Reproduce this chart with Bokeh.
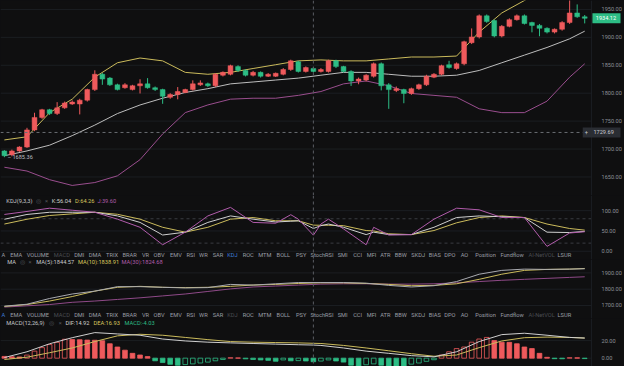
from bokeh.plotting import figure
from bokeh.layouts import column
from bokeh.models import Range1d, FixedTicker, PrintfTickFormatter, Span, Label, ColumnDataSource
from bokeh.embed import file_html
from bokeh.resources import INLINE
from bokeh.core.properties import value

# ---------------- data ----------------
candle_idx = list(range(1, 79))
opens = [1696.6, 1689.7, 1696.6, 1703.5, 1734.3, 1756.6, 1770.4, 1763.5, 1773.8, 1780.7,
         1780.7, 1787.5, 1806.4, 1833.9, 1827.0, 1815.0, 1809.8, 1806.4, 1813.3, 1816.7,
         1809.8, 1806.4, 1792.7, 1797.8, 1801.3, 1806.4, 1815.0, 1816.7, 1813.3, 1832.2,
         1833.9, 1847.6, 1840.7, 1832.2, 1837.3, 1830.4, 1830.4, 1833.9, 1842.4, 1856.2,
         1839.0, 1844.2, 1839.0, 1839.0, 1857.9, 1847.6, 1839.0, 1821.9, 1823.6, 1830.4,
         1852.7, 1815.0, 1804.7, 1806.4, 1799.5, 1808.1, 1815.0, 1828.7, 1833.9, 1851.0,
         1844.2, 1852.7, 1890.5, 1900.8, 1938.5, 1930.0, 1902.5, 1919.7, 1931.7, 1938.5,
         1926.5, 1921.4, 1916.2, 1909.4, 1914.5, 1926.5, 1943.7, 1936.8]
highs = [1698, 1699, 1705, 1738, 1765, 1772, 1772, 1784, 1785, 1787,
         1790, 1808, 1841, 1836, 1829, 1817, 1818, 1815, 1825, 1827,
         1812, 1808, 1800, 1811, 1808, 1823, 1823, 1819, 1836, 1839,
         1851, 1850, 1843, 1840, 1839, 1836, 1837, 1845, 1860, 1858,
         1848, 1847, 1845, 1860, 1860, 1849, 1841, 1828, 1834, 1855,
         1855, 1818, 1812, 1808, 1810, 1817, 1833, 1836, 1851, 1858,
         1855, 1894, 1916, 1941, 1941, 1932, 1922, 1934, 1941, 1941,
         1928, 1924, 1918, 1916, 1929, 1972, 1959, 1940]
lows = [1685.36, 1687, 1695, 1702, 1732, 1754, 1761, 1761, 1772, 1779,
        1762, 1785, 1804, 1815, 1813, 1805, 1808, 1805, 1799.5, 1808,
        1804, 1781, 1790, 1789, 1800, 1805, 1813, 1811, 1811, 1830,
        1832, 1838, 1830, 1830, 1828, 1829, 1829, 1832, 1840, 1837,
        1837, 1837, 1837, 1837, 1845, 1837, 1813, 1816, 1821, 1828,
        1805, 1772, 1802, 1782, 1797, 1806, 1813, 1827, 1832, 1844,
        1842, 1850, 1888, 1898, 1926, 1900, 1900, 1918, 1930, 1923,
        1909, 1902, 1907, 1907, 1912, 1924, 1935, 1925]
closes = [1688.0, 1696.6, 1703.5, 1734.3, 1756.6, 1770.4, 1763.5, 1773.8, 1782.4, 1784.1,
          1787.5, 1806.4, 1833.9, 1825.3, 1815.0, 1806.4, 1815.0, 1813.3, 1816.7, 1809.8,
          1806.4, 1794.4, 1797.8, 1803.0, 1806.4, 1816.7, 1818.4, 1813.3, 1833.9, 1837.3,
          1849.3, 1840.7, 1832.2, 1837.3, 1830.4, 1833.9, 1835.6, 1842.4, 1857.9, 1839.0,
          1845.9, 1839.0, 1842.4, 1857.9, 1847.6, 1839.0, 1821.9, 1825.3, 1832.2, 1852.7,
          1813.3, 1806.4, 1808.1, 1799.5, 1808.1, 1815.0, 1830.4, 1833.9, 1849.3, 1845.9,
          1852.7, 1892.2, 1900.8, 1938.5, 1928.2, 1902.5, 1919.7, 1931.7, 1938.5, 1924.8,
          1921.4, 1916.2, 1909.4, 1914.5, 1926.5, 1943.7, 1936.8, 1934.12]

band_idx = [1, 4, 7, 10, 13, 16, 19, 22, 25, 28, 31, 34, 37, 40, 43, 46, 49, 52, 55, 58,
            61, 64, 67, 70, 73, 76, 78]
boll_upper = [1716.3, 1722.0, 1765.2, 1789.3, 1828.7, 1854.5, 1863.0, 1857.9, 1837.3, 1833.9,
              1837.3, 1844.2, 1851.0, 1857.9, 1859.6, 1857.9, 1857.9, 1861.3, 1864.8, 1864.8,
              1866.5, 1909.4, 1943.7, 1966.0, 1990.0, 2005.0, 2012.0]
boll_mid = [1688.0, 1696.6, 1706.9, 1724.0, 1742.9, 1763.5, 1778.9, 1791.0, 1801.3, 1808.1,
            1816.7, 1820.1, 1823.6, 1827.0, 1832.2, 1837.3, 1837.3, 1833.9, 1830.4, 1830.4,
            1832.2, 1840.7, 1854.5, 1868.2, 1881.9, 1897.4, 1911.1]
boll_lower = [1667.4, 1660.6, 1645.1, 1634.8, 1640.0, 1652.0, 1681.0, 1727.0, 1765.2, 1779.0,
              1789.3, 1791.0, 1791.0, 1796.1, 1803.0, 1816.7, 1821.9, 1813.3, 1799.5, 1796.1,
              1792.7, 1772.1, 1765.2, 1765.2, 1785.8, 1828.7, 1852.7]

kdj_idx = [1, 4, 7, 10, 13, 16, 19, 22, 25, 28, 31, 34, 37, 39, 40, 42, 43, 44, 46, 49,
           50, 52, 55, 58, 61, 64, 67, 70, 73, 76, 78]
kdj_k = [78.8, 90.6, 96, 96, 96, 87, 71, 40, 47, 71, 87, 79, 72, 74, 75, 56.04, 63, 67, 59, 41,
         47, 41, 41, 59, 83, 87, 85, 83, 47, 46, 49]
kdj_d = [67, 78.8, 88, 92, 96, 91, 79, 59, 47, 59, 79, 83, 75, 75, 75, 64.26, 64, 64, 63, 51,
         50, 43, 41, 51, 70, 83, 87, 83, 67, 56, 52]
kdj_j = [90.6, 98, 106, 101, 96, 79, 59, 16, 47, 87, 108, 71, 69, 90, 79, 39.60, 67, 79, 55, 16,
         59, 40, 41, 79, 106, 102, 83, 83, 12, 45, 48]

ma5 = [1696.0, 1707.7, 1743.0, 1770.5, 1788.1, 1815.5, 1815.5, 1811.6, 1807.7, 1809.7,
       1829.3, 1825.3, 1833.2, 1841.0, 1841.0, 1841.0, 1837.1, 1823.4, 1813.6, 1821.4,
       1846.9, 1892.0, 1915.5, 1923.3, 1921.4, 1923.3, 1925.3]
ma10 = [1694.0, 1705.8, 1727.3, 1754.8, 1788.1, 1811.6, 1817.5, 1811.6, 1809.7, 1811.6,
        1817.5, 1825.3, 1829.3, 1835.1, 1839.0, 1839.0, 1835.1, 1829.3, 1821.4, 1823.4,
        1833.2, 1860.6, 1892.0, 1915.5, 1921.4, 1923.3, 1927.3]
ma30 = [1690.1, 1698.0, 1705.8, 1719.5, 1727.3, 1737.1, 1747.0, 1758.7, 1770.5, 1786.1,
        1801.8, 1813.6, 1819.5, 1825.3, 1831.2, 1833.2, 1833.2, 1831.2, 1831.2, 1833.2,
        1839.0, 1846.9, 1854.7, 1860.6, 1866.5, 1872.4, 1876.3]

macd_hist = [2.0, 1.6, 1.4, 3.5, 8.0, 12.0, 15.5, 18.0, 21.5, 21.3,
             21.0, 20.6, 20.4, 19.8, 16.4, 12.7, 9.1, 5.5, 3.6, 1.8,
             -3.0, -5.0, -7.0, -8.0, -7.3, -6.5, -5.5, -4.5, -3.0, -1.5,
             0.5, 0.3, -0.8, -1.5, -2.0, -2.5, -3.5, -2.0, -3.0, -2.8,
             -3.2, -4.03, -3.3, -2.0, -3.2, -4.5, -8.0, -9.0, -7.5, -6.5,
             -8.0, -9.0, -9.2, -9.4, -6.8, -5.5, -3.6, -1.8, 3.6, 7.3,
             10.9, 12.7, 18.2, 21.8, 23.6, 20.0, 18.2, 18.0, 16.4, 12.7,
             10.9, 5.5, 1.0, -0.6, -0.7, 0.5, 0.4, -0.5]
macd_idx = [1, 4, 7, 10, 13, 16, 19, 22, 25, 28, 31, 34, 37, 40, 42, 43, 46, 49, 52, 55,
            58, 61, 64, 67, 70, 73, 76, 78]
dif = [0.7, 7.3, 16.4, 23.3, 29.1, 27.6, 26.1, 21.8, 19.6, 18.2, 17.4, 16.7, 16.0, 15.3, 14.92,
       14.5, 11.6, 8.0, 5.5, 2.9, 1.5, 7.3, 18.9, 26.8, 28.4, 26.1, 23.6, 22.9]
dea = [-1.5, 1.1, 6.2, 11.6, 18.9, 25.4, 27.2, 26.1, 23.6, 21.1, 18.9, 18.2, 17.8, 17.4, 16.93,
       16.7, 14.5, 11.6, 8.4, 5.1, 2.2, 3.6, 12.0, 19.6, 23.3, 24.0, 23.6, 22.9]

cross_idx = 42
cross_price = 1729.69

price_ticks = [1650, 1700, 1750, 1800, 1850, 1900, 1950]
kdj_ticks = [0, 50, 100]
ma_ticks = [1700, 1800, 1900]
macd_ticks = [0, 20]

tabs = ["A", "EMA", "VOLUME", "MACD", "DMI", "DMA", "TRIX", "BRAR", "VR", "OBV", "EMV", "RSI",
        "WR", "SAR", "KDJ", "ROC", "MTM", "BOLL", "PSY", "StochRSI", "SMI", "CCI", "MFI", "ATR",
        "BBW", "SKDJ", "BIAS", "DPO", "AO", "Position", "Fundflow", "AI-NetVOL", "LSUR"]

# ---------------- layout / style ----------------
BG = "#0f0f10"
UP = "#ef5a5c"
DOWN = "#2dbd85"
WHITE = "#cfcfcf"
YELLOW = "#cbbb5c"
MAGENTA = "#b15cab"
AXIS_TXT = "#8c9098"
TAB_TXT = "#9a9ea6"
TAB_DIM = "#4a4d52"
TAB_SEL = "#3d7bd9"
GRID = "#1b1e22"
FONT = value("Roboto")
TXT_SIZE = "5.7px"
NB = "\u00a0"

W = 624
SX = 0.975
PPI = 7.78 * SX
X0 = 1 - (4 * SX) / PPI
X1 = X0 + W / PPI
xr = Range1d(X0, X1)


def ix(xref):
    return X0 + xref / 7.78


XR_EDGE = ix(610)  # left edge of the price-scale column


def mkfig(h, y0, y1, ticks):
    p = figure(width=W, height=h, x_range=xr, y_range=Range1d(y0, y1),
               x_axis_location=None, y_axis_location="right", toolbar_location=None,
               output_backend="svg", min_border_left=0, min_border_right=0,
               min_border_top=0, min_border_bottom=0, background_fill_color=BG,
               border_fill_color=BG, outline_line_color=None)
    ax = p.yaxis[0]
    ax.ticker = FixedTicker(ticks=ticks)
    ax.formatter = PrintfTickFormatter(format="%.2f")
    ax.axis_line_color = None
    ax.major_tick_line_color = None
    ax.minor_tick_line_color = None
    ax.major_label_text_color = AXIS_TXT
    ax.major_label_text_font_size = "5.6px"
    ax.major_label_text_font = "Roboto"
    ax.major_label_standoff = -25
    p.xgrid.visible = False
    p.ygrid.visible = False
    p.segment(x0=[X0] * len(ticks), x1=[XR_EDGE] * len(ticks), y0=ticks, y1=ticks,
              line_color=GRID, line_width=1)
    p.add_layout(Span(location=XR_EDGE, dimension="height", line_color=GRID, line_width=1))
    p.add_layout(Span(location=cross_idx, dimension="height", line_color="#5a5d62",
                      line_dash="3 3", line_width=1))
    return p


# ---------------- main candle panel ----------------
p1 = mkfig(195, 1966 - 1.716 * 203.5, 1966, price_ticks)
colors = [UP if c >= o else DOWN for o, c in zip(opens, closes)]
src = ColumnDataSource(dict(x=candle_idx, o=opens, h=highs, l=lows, c=closes, col=colors,
                            top=[max(o, c) for o, c in zip(opens, closes)],
                            bot=[min(o, c) for o, c in zip(opens, closes)]))
p1.line(band_idx, boll_upper, line_color=YELLOW, line_width=1)
p1.line(band_idx, boll_mid, line_color="#bdbdbd", line_width=1)
p1.line(band_idx, boll_lower, line_color="#9a4e8e", line_width=1)
p1.segment(x0="x", y0="h", x1="x", y1="l", color="col", line_width=1, source=src)
p1.vbar(x="x", top="top", bottom="bot", width=0.64, fill_color="col", line_color="col",
        line_width=0.5, source=src)
p1.segment(x0=[X0], x1=[ix(601)], y0=[cross_price], y1=[cross_price], line_color="#6a6d72",
           line_dash="3 3", line_width=1)
p1.text(x=[candle_idx[0]], y=[lows[0]], text=["– " + f"{lows[0]:.2f}"], x_offset=3,
        text_color="#b9bcc2", text_font=FONT, text_font_size="5.6px",
        text_baseline="middle", text_align="left")
p1.add_layout(Label(x=XR_EDGE, y=closes[-1], x_offset=1,
                    text=f"{NB}{closes[-1]:.2f}" + NB * 5,
                    text_color="#ffffff", text_font="Roboto", text_font_size="5.6px",
                    text_baseline="middle", text_align="left",
                    background_fill_color=DOWN, padding=2))
p1.add_layout(Label(x=ix(601), y=cross_price,
                    text="+" + NB * 4 + f"{cross_price:.2f}" + NB * 5,
                    text_color="#c9ccd1", text_font="Roboto", text_font_size="5.6px",
                    text_baseline="middle", text_align="left",
                    background_fill_color="#2a2d33", padding=2))

# ---------------- KDJ panel ----------------
KY = lambda yref: (261.7 - yref) / 0.424
p2 = mkfig(64, KY(203.5 + 64 / 0.958), KY(203.5), kdj_ticks)
for lv in (80, 20):
    p2.segment(x0=[X0], x1=[XR_EDGE], y0=[lv], y1=[lv], line_color="#3a3c40",
               line_dash="3 3", line_width=1)
p2.line(kdj_idx, kdj_d, line_color=YELLOW, line_width=1)
p2.line(kdj_idx, kdj_k, line_color=WHITE, line_width=1)
p2.line(kdj_idx, kdj_j, line_color=MAGENTA, line_width=1)
kt = [("KDJ(9,3,3)", 6, "#c4c6ca"), ("◎", 37, "#55585d"), ("×", 46, "#55585d"),
      (f"K:{kdj_k[kdj_idx.index(cross_idx)]:.2f}", 53, WHITE),
      (f"D:{kdj_d[kdj_idx.index(cross_idx)]:.2f}", 77, "#d8c85e"),
      (f"J:{kdj_j[kdj_idx.index(cross_idx)]:.2f}", 100, MAGENTA)]
p2.text(x=[ix(t[1]) for t in kt], y=[KY(209)] * len(kt), text=[t[0] for t in kt],
        text_color=[t[2] for t in kt], text_font=FONT, text_font_size=TXT_SIZE,
        text_baseline="middle", text_align="left")

TAB_X = [1, 10, 27, 55, 76, 91, 109, 126, 146, 158, 175, 192, 205, 219, 234, 250, 266, 285,
         305, 320, 348, 364, 378, 392, 407, 424, 442, 458, 475, 490, 516, 545, 575]


def tab_row(p, yv, sel, dim):
    cols = [TAB_SEL if t in sel else (TAB_DIM if t in dim else TAB_TXT) for t in tabs]
    p.text(x=[ix(v) for v in TAB_X], y=[yv] * len(tabs), text=tabs, text_color=cols,
           text_font=FONT, text_font_size=TXT_SIZE, text_baseline="middle",
           text_align="left")


tab_row(p2, KY(265.5), {"KDJ"}, {"MACD", "AI-NetVOL"})

# ---------------- MA panel ----------------
MY = lambda yref: 1900 - 5.882 * (yref - 284.3)
ma_top = 203.5 + 64 / 0.958
p3 = mkfig(59, MY(ma_top + 59 / 0.958), MY(ma_top), ma_ticks)
p3.line(band_idx, ma30, line_color="#8f4a88", line_width=1)
p3.line(band_idx, ma10, line_color=YELLOW, line_width=1)
p3.line(band_idx, ma5, line_color="#a9aab0", line_width=1)
mt = [("MA", 7, "#c4c6ca"), ("◎", 20, "#55585d"), ("×", 29, "#55585d"),
      ("MA(5):1844.57", 37, "#c4c6ca"), ("MA(10):1838.91", 80, "#d8c85e"),
      ("MA(30):1824.68", 125, MAGENTA)]
p3.text(x=[ix(t[1]) for t in mt], y=[MY(273)] * len(mt), text=[t[0] for t in mt],
        text_color=[t[2] for t in mt], text_font=FONT, text_font_size=TXT_SIZE,
        text_baseline="middle", text_align="left")
tab_row(p3, MY(328.3), {"A"}, {"MACD", "KDJ", "AI-NetVOL"})

# ---------------- MACD panel ----------------
DY = lambda yref: (373.3 - yref) / 0.917
macd_top = ma_top + 59 / 0.958
p4 = mkfig(48, DY(macd_top + 48 / 0.958), DY(macd_top), macd_ticks)
filled = [True] + [macd_hist[i] < macd_hist[i - 1] for i in range(1, len(macd_hist))]
hcol = [UP if v >= 0 else DOWN for v in macd_hist]
fcol = [c if f else BG for c, f in zip(hcol, filled)]
hs = ColumnDataSource(dict(x=candle_idx, top=macd_hist, col=hcol, fcol=fcol))
p4.vbar(x="x", top="top", bottom=0, width=0.62, fill_color="fcol", line_color="col",
        line_width=0.8, source=hs)
p4.line(macd_idx, dea, line_color=YELLOW, line_width=1)
p4.line(macd_idx, dif, line_color=WHITE, line_width=1)
dt = [("MACD(12,26,9)", 6, "#c4c6ca"), ("◎", 50, "#55585d"), ("×", 60, "#55585d"),
      (f"DIF:{dif[macd_idx.index(cross_idx)]:.2f}", 67, WHITE),
      (f"DEA:{dea[macd_idx.index(cross_idx)]:.2f}", 96, "#d8c85e"),
      (f"MACD:{macd_hist[cross_idx - 1]:.2f}", 128, DOWN)]
p4.text(x=[ix(t[1]) for t in dt], y=[DY(337)] * len(dt), text=[t[0] for t in dt],
        text_color=[t[2] for t in dt], text_font=FONT, text_font_size=TXT_SIZE,
        text_baseline="middle", text_align="left")

layout = column(p1, p2, p3, p4, spacing=0, background=BG)
open("out.html", "w").write(file_html(layout, INLINE))
